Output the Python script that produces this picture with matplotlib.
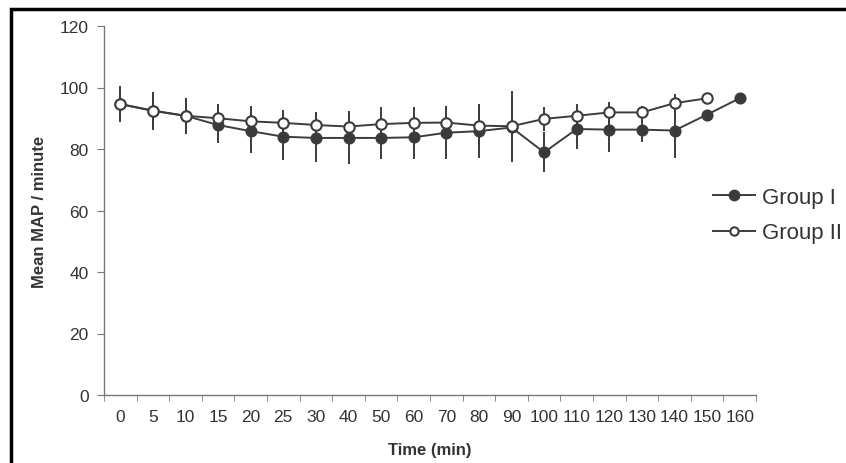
import numpy as np
import matplotlib.pyplot as plt
from matplotlib.patches import Rectangle
from matplotlib.lines import Line2D

plt.rcParams['font.family'] = ['Liberation Sans', 'DejaVu Sans']

times = ['0', '5', '10', '15', '20', '25', '30', '40', '50', '60', '70', '80', '90',
         '100', '110', '120', '130', '140', '150', '160']
group1 = [94.6, 92.4, 90.8, 87.8, 85.8, 84.0, 83.6, 83.6, 83.6, 83.8, 85.3, 85.8, 87.0,
          78.9, 86.5, 86.3, 86.3, 86.0, 91.2, 96.5]
group1_sd = [5.8, 6.2, 5.9, 5.8, 7.1, 7.5, 7.7, 8.5, 6.9, 7.1, 8.6, 8.8, 10.0,
             6.5, 6.5, 7.2, 3.9, 9.0, 0, 0]
group2 = [94.6, 92.5, 90.8, 90.0, 89.0, 88.5, 87.8, 87.3, 88.1, 88.5, 88.6, 87.6, 87.4,
          89.8, 90.8, 91.9, 91.9, 94.9, 96.5, np.nan]
group2_sd = [5.5, 5.5, 5.9, 4.6, 4.9, 4.3, 4.3, 5.2, 5.5, 5.1, 5.3, 7.0, 11.6,
             3.8, 3.8, 3.5, 2.0, 3.0, 0, 0]

ink = '#3c3c3c'
fig = plt.figure(figsize=(8.46, 4.64), dpi=100)
ax = fig.add_axes([104/846, 1-396/464, (756-104)/846, (396-27)/464])

x = np.arange(len(times))
ax.errorbar(x, group1, yerr=group1_sd, color=ink, lw=1.4, elinewidth=1.4, capsize=0,
            marker='o', ms=7.5, mfc='#3a3a3a', mec=ink, mew=1.2, zorder=2)
ax.errorbar(x, group2, yerr=group2_sd, color=ink, lw=1.4, elinewidth=1.4, capsize=0,
            marker='o', ms=7.5, mfc='white', mec=ink, mew=1.5, zorder=3)

ax.set_xlim(-0.5, len(times) - 0.5)
ax.set_ylim(0, 120)
ax.set_yticks(range(0, 121, 20))
ax.set_xticks(x)
ax.set_xticklabels(times)
ax.set_xticks(np.arange(-0.5, len(times), 1), minor=True)
ax.tick_params(axis='x', which='major', length=0, pad=10, labelsize=12.5, colors='#333333')
ax.tick_params(axis='x', which='minor', length=4, direction='out', color='#777777')
ax.tick_params(axis='y', length=5, direction='out', pad=6, labelsize=12.5, colors='#333333', color='#777777')
for s in ['top', 'right']:
    ax.spines[s].set_visible(False)
for s in ['left', 'bottom']:
    ax.spines[s].set_color('#777777')
    ax.spines[s].set_linewidth(1.0)

ax.set_xlabel('Time (min)', fontsize=12, fontweight='bold', color='#333333', labelpad=13)
ax.set_ylabel('Mean MAP / minute', fontsize=12, fontweight='bold', color='#333333', labelpad=9)

handles = [Line2D([], [], color=ink, lw=1.4, marker='o', ms=7.5, mfc='#3a3a3a', mec=ink),
           Line2D([], [], color=ink, lw=1.4, marker='o', ms=6, mfc='white', mec=ink, mew=1.5)]
fig.legend(handles, ['Group I', 'Group II'], loc='upper left',
           bbox_to_anchor=(713/846, 1-188/464), frameon=False,
           fontsize=16, handlelength=1.9, handletextpad=0.3, labelspacing=0.65,
           borderaxespad=0, borderpad=0, labelcolor='#333333')

fig.patches.append(Rectangle((11/846, -0.1), 1.2, (454/464) + 0.1,
                             transform=fig.transFigure, fill=False, lw=2.5,
                             edgecolor='black', zorder=10))

fig.savefig('out.png', dpi=100)
